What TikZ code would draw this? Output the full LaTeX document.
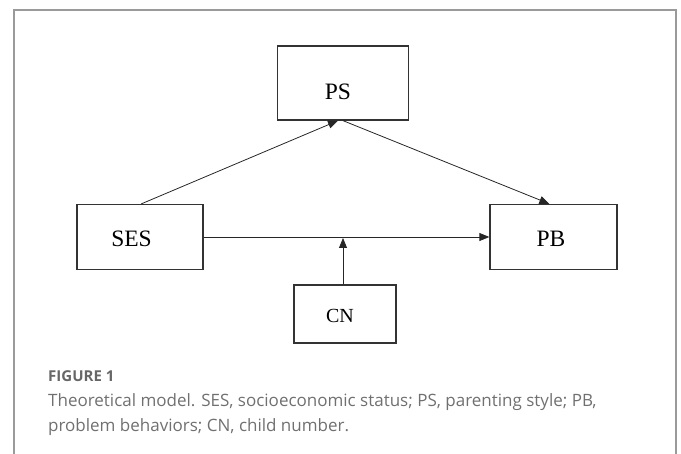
\documentclass[tikz,border=0pt]{standalone}
\usepackage{fontspec}
\setmainfont{Liberation Serif}
\newfontfamily\capfont{Open Sans}
\usetikzlibrary{arrows.meta}
\definecolor{framegray}{HTML}{9A9A9A}
\definecolor{capgray}{HTML}{707070}
\definecolor{figgray}{HTML}{666666}
\definecolor{boxline}{HTML}{333333}
\tikzset{
  mbox/.style={draw=boxline, line width=1.3pt, inner sep=0pt},
  lbl/.style={inner sep=0pt, font=\fontsize{23.5}{23.5}\selectfont},
  conn/.style={draw=black!85, line width=0.8pt, -{Triangle[length=10pt,width=8pt]}},
  captxt/.style={inner sep=0pt, anchor=base west, text=capgray},
}
\begin{document}
\begin{tikzpicture}[x=1pt,y=-1pt]
\useasboundingbox (0,0) rectangle (681,454);
\draw[framegray, line width=1.5pt] (14,454) -- (14,10) -- (676,10) -- (676,454);
% boxes
\node[mbox, minimum width=131pt, minimum height=74pt] (ps) at (343,83) {};
\node[mbox, minimum width=126pt, minimum height=65pt] (ses) at (140,237) {};
\node[mbox, minimum width=127pt, minimum height=65pt] (pb) at (553.5,237) {};
\node[mbox, minimum width=102pt, minimum height=58pt] (cn) at (345,314) {};
% labels
\node[lbl] (pst) at (338,91.5) {PS};
\node[lbl] (sest) at (131.5,238.5) {SES};
\node[lbl] (pbt) at (551,238.5) {PB};
\node[lbl, font=\fontsize{20}{20}\selectfont] (cnt) at (340,316) {CN};
% connectors
\coordinate (mid) at (343,238);
\draw[conn] ([xshift=65pt]ses.north west) -- ([xshift=-5pt]ps.south);
\draw[conn] (ps.south) -- ([xshift=60pt]pb.north west);
\draw[conn] (ses.east) -- (pb.west);
\draw[conn] ([xshift=-2pt]cn.north) -- (mid);
% caption
\node[captxt, text=figgray, font=\capfont\fontsize{15}{15}\selectfont\bfseries] (fig) at (48,382) {FIGURE 1};
\node[captxt, font=\capfont\fontsize{17}{18}\selectfont] (cap1) at (48,407) {Theoretical model. SES, socioeconomic status; PS, parenting style; PB,};
\node[captxt, font=\capfont\fontsize{17}{18}\selectfont] (cap2) at (48,432) {problem behaviors; CN, child number.};
\end{tikzpicture}
\end{document}
